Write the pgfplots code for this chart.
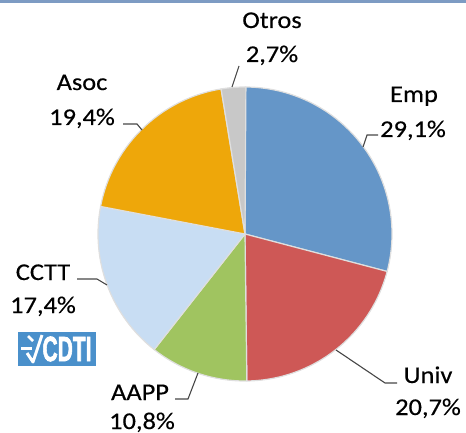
\documentclass[border=0pt]{standalone}
\usepackage{pgfplots}
\pgfplotsset{compat=1.18}
\usepackage{fontspec}
\setmainfont{Carlito}[FakeStretch=1.1, FakeBold=0.4]
\newfontfamily\logofont{Liberation Sans}[BoldFeatures={FakeBold=2.5}]
\definecolor{cEmp}{RGB}{101,150,200}
\definecolor{cUniv}{RGB}{206,88,86}
\definecolor{cAAPP}{RGB}{160,196,96}
\definecolor{cCCTT}{RGB}{200,221,243}
\definecolor{cAsoc}{RGB}{238,167,10}
\definecolor{cOtros}{RGB}{200,200,200}
\definecolor{cTop}{RGB}{125,155,195}
\definecolor{cLogo}{RGB}{74,144,203}
\definecolor{cLead}{RGB}{70,70,70}
% shares (%)
\def\vEmp{29.1}
\def\vUniv{20.7}
\def\vAAPP{10.8}
\def\vCCTT{17.4}
\def\vAsoc{19.4}
\def\vOtros{2.7}
\pgfmathsetmacro\aA{90}
\pgfmathsetmacro\aB{\aA-\vEmp*3.6}
\pgfmathsetmacro\aC{\aB-\vUniv*3.6}
\pgfmathsetmacro\aD{\aC-\vAAPP*3.6}
\pgfmathsetmacro\aE{\aD-\vCCTT*3.6}
\pgfmathsetmacro\aF{\aE-\vAsoc*3.6}
\pgfmathsetmacro\aG{\aF-\vOtros*3.6}
\tikzset{lab/.style={anchor=base, inner sep=0pt, text=black, font=\fontsize{24}{28}\selectfont}}
\pgfplotsset{slice/.style={draw=white!75!gray, line width=1.2pt, samples=80, variable=\t, line join=round}}
\begin{document}
\begin{tikzpicture}
\begin{axis}[scale only axis, width=466pt, height=442pt,
  xmin=0, xmax=466, ymin=0, ymax=442, hide axis, clip=false]
\addplot[slice, fill=cEmp, domain=\aB:\aA] ({245+147*cos(\t)},{208+147*sin(\t)}) -- (axis cs:245,208) -- cycle;
\addplot[slice, fill=cUniv, domain=\aC:\aB] ({245+147*cos(\t)},{208+147*sin(\t)}) -- (axis cs:245,208) -- cycle;
\addplot[slice, fill=cAAPP, domain=\aD:\aC] ({245+147*cos(\t)},{208+147*sin(\t)}) -- (axis cs:245,208) -- cycle;
\addplot[slice, fill=cCCTT, domain=\aE:\aD] ({245+147*cos(\t)},{208+147*sin(\t)}) -- (axis cs:245,208) -- cycle;
\addplot[slice, fill=cAsoc, domain=\aF:\aE] ({245+147*cos(\t)},{208+147*sin(\t)}) -- (axis cs:245,208) -- cycle;
\addplot[slice, fill=cOtros, domain=\aG:\aF] ({245+147*cos(\t)},{208+147*sin(\t)}) -- (axis cs:245,208) -- cycle;

% top band
\fill[cTop] (axis cs:0,439) rectangle (axis cs:466,442);

% labels
\node[lab] at (axis cs:272,414) {Otros};
\node[lab] at (axis cs:272,380) {2,7\%};
\node[lab] at (axis cs:82,352) {Asoc};
\node[lab] at (axis cs:82,317) {19,4\%};
\node[lab] at (axis cs:414,340) {Emp};
\node[lab] at (axis cs:413,305) {29,1\%};
\node[lab] at (axis cs:43,162) {CCTT};
\node[lab] at (axis cs:43,129) {17,4\%};
\node[lab] at (axis cs:140,42) {AAPP};
\node[lab] at (axis cs:142,13) {10,8\%};
\node[lab] at (axis cs:428,59) {Univ};
\node[lab] at (axis cs:428,27) {20,7\%};

% leader lines
\draw[cLead, line width=1.1pt] (axis cs:232,355) -- (axis cs:239,376);
\draw[cLead, line width=1.1pt] (axis cs:123,318) -- (axis cs:137,318) -- (axis cs:142,312);
\draw[cLead, line width=1.1pt] (axis cs:378,307) -- (axis cs:367,307) -- (axis cs:363,295);
\draw[cLead, line width=1.1pt] (axis cs:77,163) -- (axis cs:97,163) -- (axis cs:107,157);
\draw[cLead, line width=1.1pt] (axis cs:175,43) -- (axis cs:188,43) -- (axis cs:198,69);
\draw[cLead, line width=1.1pt] (axis cs:397,59) -- (axis cs:385,59) -- (axis cs:336,92);

% CDTI logo
\fill[cLogo] (axis cs:18,76) rectangle (axis cs:96,110);
\draw[white, line width=3pt] (axis cs:21,94) -- (axis cs:32,94);
\draw[white, line width=2.5pt] (axis cs:28,106) -- (axis cs:33,101);
\draw[white, line width=3pt, line join=round] (axis cs:27,89) -- (axis cs:33,80) -- (axis cs:42,107);
\node[anchor=center, inner sep=0pt, text=white] at (axis cs:67,93) {\scalebox{0.6}[1]{\logofont\bfseries\fontsize{35}{35}\selectfont CDTI}};
\end{axis}
\end{tikzpicture}
\end{document}
